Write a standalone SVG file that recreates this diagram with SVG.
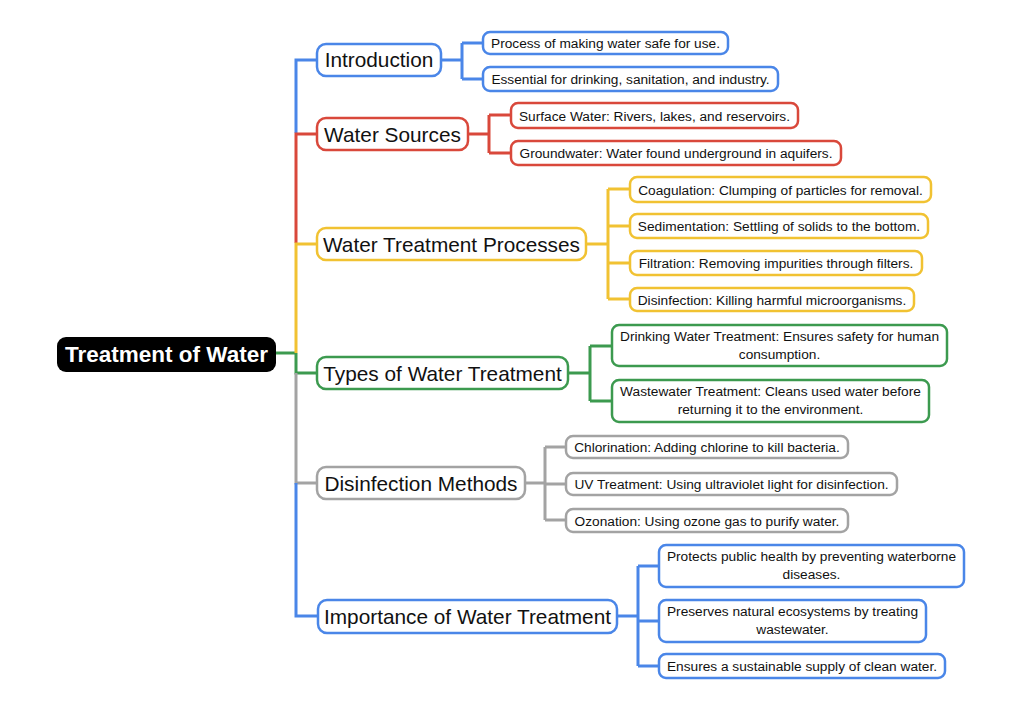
<svg xmlns="http://www.w3.org/2000/svg" width="1024" height="709" viewBox="0 0 1024 709">
<style>
text{font-family:"Liberation Sans",Arial,sans-serif;fill:#111;}
.m{font-size:20.8px;}
.c{font-size:13.7px;}
.box{fill:#fff;stroke-width:2.5;}
.ln{fill:none;stroke-width:3;}
.b{stroke:#4a86e8;}.r{stroke:#d9483b;}.y{stroke:#f1c232;}.g{stroke:#3c9a4f;}.k{stroke:#a3a3a3;}
</style>
<rect width="1024" height="709" fill="#fff"/>
<g id="connectors">
<path class="ln g" d="M276,353 H296"/>
<path class="ln b" d="M296,133 V60 H317"/>
<path class="ln r" d="M296,243 V134 H317"/>
<path class="ln y" d="M296,353 V244 H317"/>
<path class="ln g" d="M296,353 V373 H317"/>
<path class="ln k" d="M296,373 V483 H317"/>
<path class="ln b" d="M296,483 V616 H318"/>
<path class="ln b" d="M441,60 H462 M462,43 V79 M462,43 H483 M462,79 H483"/>
<path class="ln r" d="M468,134 H489 M489,115 V153 M489,115 H511 M489,153 H511"/>
<path class="ln y" d="M586,244 H608 M608,189 V299 M608,189 H630 M608,226 H630 M608,263 H630 M608,299 H630"/>
<path class="ln g" d="M568,373 H590 M590,346 V401 M590,346 H612 M590,401 H612"/>
<path class="ln k" d="M525,483 H545 M545,447 V520 M545,447 H566 M545,484 H566 M545,520 H566"/>
<path class="ln b" d="M617,616 H638 M638,566 V666 M638,566 H659 M638,621 H659 M638,666 H659"/>
</g>
<g id="root"><rect x="57" y="337" width="219" height="35" rx="9" fill="#000"/><text x="166.5" y="362" text-anchor="middle" style="font-size:22.5px;font-weight:bold;fill:#fff">Treatment of Water</text></g>
<g id="introduction"><rect class="box b" x="317" y="44" width="124" height="32" rx="9"/><text class="m" x="379" y="67" text-anchor="middle">Introduction</text></g>
<g id="intro-1"><rect class="box b" x="483" y="32" width="245" height="22" rx="7"/><text class="c" x="605.5" y="48" text-anchor="middle">Process of making water safe for use.</text></g>
<g id="intro-2"><rect class="box b" x="483" y="67" width="295" height="24" rx="7"/><text class="c" x="630.5" y="84" text-anchor="middle">Essential for drinking, sanitation, and industry.</text></g>
<g id="sources"><rect class="box r" x="317" y="118" width="151" height="32" rx="9"/><text class="m" x="392.5" y="141.5" text-anchor="middle">Water Sources</text></g>
<g id="sources-1"><rect class="box r" x="511" y="103" width="287" height="25" rx="7"/><text class="c" x="654.5" y="120.5" text-anchor="middle">Surface Water: Rivers, lakes, and reservoirs.</text></g>
<g id="sources-2"><rect class="box r" x="511" y="141" width="330" height="24" rx="7"/><text class="c" x="676" y="158" text-anchor="middle">Groundwater: Water found underground in aquifers.</text></g>
<g id="processes"><rect class="box y" x="317" y="228" width="269" height="32" rx="9"/><text class="m" x="451.5" y="251.5" text-anchor="middle">Water Treatment Processes</text></g>
<g id="proc-1"><rect class="box y" x="630" y="177" width="301" height="25" rx="7"/><text class="c" x="780.5" y="194.5" text-anchor="middle">Coagulation: Clumping of particles for removal.</text></g>
<g id="proc-2"><rect class="box y" x="630" y="214" width="298" height="24" rx="7"/><text class="c" x="779" y="231" text-anchor="middle">Sedimentation: Settling of solids to the bottom.</text></g>
<g id="proc-3"><rect class="box y" x="630" y="251" width="292" height="24" rx="7"/><text class="c" x="776" y="268" text-anchor="middle">Filtration: Removing impurities through filters.</text></g>
<g id="proc-4"><rect class="box y" x="630" y="288" width="284" height="23" rx="7"/><text class="c" x="772" y="304.5" text-anchor="middle">Disinfection: Killing harmful microorganisms.</text></g>
<g id="types"><rect class="box g" x="317" y="357" width="251" height="32" rx="9"/><text class="m" x="442.5" y="380.5" text-anchor="middle">Types of Water Treatment</text></g>
<g id="types-1"><rect class="box g" x="612" y="325" width="335" height="41" rx="7"/><text class="c" x="779.5" y="341" text-anchor="middle">Drinking Water Treatment: Ensures safety for human</text><text class="c" x="779.5" y="359" text-anchor="middle">consumption.</text></g>
<g id="types-2"><rect class="box g" x="612" y="380" width="317" height="42" rx="7"/><text class="c" x="770.5" y="396" text-anchor="middle">Wastewater Treatment: Cleans used water before</text><text class="c" x="770.5" y="414" text-anchor="middle">returning it to the environment.</text></g>
<g id="disinfection"><rect class="box k" x="317" y="467" width="208" height="32" rx="9"/><text class="m" x="421" y="490.5" text-anchor="middle">Disinfection Methods</text></g>
<g id="dis-1"><rect class="box k" x="566" y="436" width="282" height="22" rx="7"/><text class="c" x="707" y="452" text-anchor="middle">Chlorination: Adding chlorine to kill bacteria.</text></g>
<g id="dis-2"><rect class="box k" x="566" y="473" width="331" height="22" rx="7"/><text class="c" x="731.5" y="489" text-anchor="middle">UV Treatment: Using ultraviolet light for disinfection.</text></g>
<g id="dis-3"><rect class="box k" x="566" y="509" width="282" height="23" rx="7"/><text class="c" x="707" y="525.5" text-anchor="middle">Ozonation: Using ozone gas to purify water.</text></g>
<g id="importance"><rect class="box b" x="318" y="600" width="299" height="33" rx="9"/><text class="m" x="467.5" y="623.5" text-anchor="middle">Importance of Water Treatment</text></g>
<g id="imp-1"><rect class="box b" x="659" y="545" width="305" height="42" rx="7"/><text class="c" x="811.5" y="561" text-anchor="middle">Protects public health by preventing waterborne</text><text class="c" x="811.5" y="579" text-anchor="middle">diseases.</text></g>
<g id="imp-2"><rect class="box b" x="659" y="600" width="267" height="42" rx="7"/><text class="c" x="792.5" y="616" text-anchor="middle">Preserves natural ecosystems by treating</text><text class="c" x="792.5" y="634" text-anchor="middle">wastewater.</text></g>
<g id="imp-3"><rect class="box b" x="659" y="654" width="286" height="24" rx="7"/><text class="c" x="802" y="670.5" text-anchor="middle">Ensures a sustainable supply of clean water.</text></g>
</svg>
